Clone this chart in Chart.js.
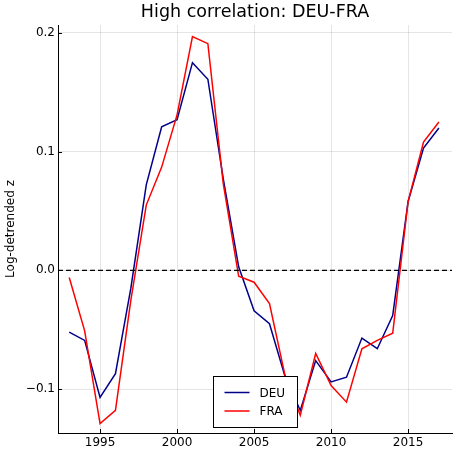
<!DOCTYPE html>
<html>
<head>
<meta charset="utf-8">
<script src="https://cdn.jsdelivr.net/npm/chart.js@4"></script>
<style>
  html, body { margin: 0; padding: 0; background: #fff; }
  #wrap { width: 453px; height: 450px; }
</style>
</head>
<body>
<div id="wrap"><canvas id="c" width="453" height="450"></canvas></div>
<script>
const years = [1993, 1994, 1995, 1996, 1997, 1998, 1999, 2000, 2001, 2002, 2003, 2004, 2005,
               2006, 2007, 2008, 2009, 2010, 2011, 2012, 2013, 2014, 2015, 2016, 2017];
const deu = [-0.052, -0.059, -0.107, -0.087, -0.015, 0.072, 0.121, 0.127, 0.175, 0.161, 0.077, 0.003, -0.034,
             -0.045, -0.089, -0.118, -0.076, -0.094, -0.090, -0.057, -0.066, -0.038, 0.058, 0.103, 0.120];
const fra = [-0.006, -0.051, -0.129, -0.118, -0.025, 0.055, 0.087, 0.131, 0.197, 0.191, 0.073, -0.005, -0.010,
             -0.028, -0.088, -0.122, -0.070, -0.097, -0.111, -0.066, -0.059, -0.053, 0.058, 0.108, 0.125];
const xTicks = [1995, 2000, 2005, 2010, 2015];
const yTicks = [-0.1, 0.0, 0.1, 0.2];
const xRange = [1992.27, 2017.85];
const yRange = [-0.137, 0.2067];

const FONT = 'DejaVu Sans';
const pts = arr => years.map((y, i) => ({ x: y, y: arr[i] }));

// title, inward ticks and legend box, drawn like the Plots.jl output
const decor = {
  id: 'decor',
  afterDraw(chart) {
    const { ctx, chartArea: a, scales } = chart;
    ctx.save();
    ctx.fillStyle = '#000';
    ctx.font = `17.5px "${FONT}"`;
    ctx.textAlign = 'center';
    ctx.textBaseline = 'middle';
    ctx.fillText('High correlation: DEU-FRA', (a.left + a.right) / 2, 12);

    ctx.strokeStyle = '#000';
    ctx.lineWidth = 1;
    ctx.beginPath();
    xTicks.forEach(v => {
      const px = Math.round(scales.x.getPixelForValue(v)) + 0.5;
      ctx.moveTo(px, a.bottom); ctx.lineTo(px, a.bottom - 4);
    });
    yTicks.forEach(v => {
      const py = Math.round(scales.y.getPixelForValue(v)) + 0.5;
      ctx.moveTo(a.left, py); ctx.lineTo(a.left + 4, py);
    });
    ctx.stroke();

    // legend
    const w = 84, h = 51;
    const lx = Math.round((a.left + a.right) / 2 - w / 2) + 0.5;
    const ly = Math.round(a.bottom - 6 - h) + 0.5;
    ctx.fillStyle = '#fff';
    ctx.fillRect(lx, ly, w, h);
    ctx.strokeRect(lx, ly, w, h);
    const items = chart.data.datasets.filter(d => d.label);
    items.forEach((d, i) => {
      const yy = ly + 16 + i * 18.5;
      ctx.strokeStyle = d.borderColor;
      ctx.lineWidth = 1.5;
      ctx.beginPath();
      ctx.moveTo(lx + 11, yy); ctx.lineTo(lx + 36, yy);
      ctx.stroke();
      ctx.fillStyle = '#000';
      ctx.font = `12px "${FONT}"`;
      ctx.textAlign = 'left';
      ctx.fillText(d.label, lx + 46, yy + 1);
    });
    ctx.restore();
  }
};

new Chart(document.getElementById('c'), {
  type: 'line',
  data: {
    datasets: [
      { data: [{ x: xRange[0], y: 0 }, { x: xRange[1], y: 0 }], borderColor: '#000', borderWidth: 1.2,
        borderDash: [5, 3], order: 0 },
      { label: 'DEU', data: pts(deu), borderColor: '#00008b', borderWidth: 1.5, order: 2 },
      { label: 'FRA', data: pts(fra), borderColor: '#ff0000', borderWidth: 1.5, order: 1 },
    ]
  },
  options: {
    responsive: false,
    animation: false,
    layout: { padding: { top: 25, right: 1, left: 0, bottom: 0 } },
    elements: { point: { radius: 0 }, line: { tension: 0 } },
    plugins: { legend: { display: false }, tooltip: { enabled: false }, title: { display: false } },
    scales: {
      x: {
        type: 'linear', min: xRange[0], max: xRange[1],
        afterBuildTicks: s => { s.ticks = xTicks.map(v => ({ value: v })); },
        afterFit: s => { s.height = 17; },
        grid: { color: 'rgba(0,0,0,0.1)', tickLength: 0 },
        border: { color: '#000', width: 1 },
        ticks: { color: '#000', font: { family: FONT, size: 12 }, padding: 3, maxRotation: 0,
                 callback: v => String(v) }
      },
      y: {
        type: 'linear', min: yRange[0], max: yRange[1],
        afterBuildTicks: s => { s.ticks = yTicks.map(v => ({ value: v })); },
        afterFit: s => { s.width = 58; },
        grid: { color: 'rgba(0,0,0,0.1)', tickLength: 0 },
        border: { color: '#000', width: 1 },
        title: { display: true, text: 'Log-detrended z', color: '#000',
                 font: { family: FONT, size: 12 }, padding: { top: 4, bottom: 0 } },
        ticks: { color: '#000', font: { family: FONT, size: 12 }, padding: 3,
                 callback: v => v.toFixed(1).replace('-', '\u2212') }
      }
    }
  },
  plugins: [decor]
});
</script>
</body>
</html>
